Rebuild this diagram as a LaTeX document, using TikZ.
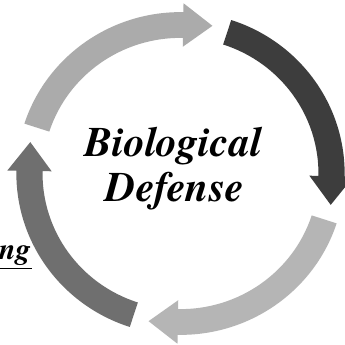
\documentclass[tikz,border=0pt]{standalone}
\usepackage{fontspec}
\newfontfamily\labelfont{texgyretermes-bolditalic.otf}
\definecolor{gA}{HTML}{ABABAB}
\definecolor{gB}{HTML}{3D3D3D}
\definecolor{gC}{HTML}{B5B5B5}
\definecolor{gD}{HTML}{6F6F6F}
\tikzset{
  cyclearrow/.style={fill=#1, draw=none},
  titletext/.style={font=\fontsize{42}{45}\selectfont\labelfont, inner sep=0pt, anchor=base},
  sidetext/.style={font=\fontsize{30}{34}\selectfont\labelfont, inner sep=0pt, anchor=base east}
}
\begin{document}
\begin{tikzpicture}[x=1pt,y=1pt]
\useasboundingbox (0,0) rectangle (345,345);
\fill[white] (0,0) rectangle (345,345);
\begin{scope}[shift={(180.5,171.5)}, xscale=1.007, yscale=0.99]
\foreach \t/\c in {162/gA, 72/gB, -18/gC, -108/gD}{
  \pgfmathsetmacro\b{\t-73}
  \pgfmathsetmacro\p{\t-84}
  \fill[cyclearrow=\c] (\t:163) arc[start angle=\t, end angle=\b, radius=163]
     -- (\b:172) -- (\p:152.5) -- (\b:128) -- (\b:137)
     arc[start angle=\b, end angle=\t, radius=137] -- cycle;
}
\end{scope}
\node[titletext] (title1) at (173,188.3) {Biological};
\node[titletext] (title2) at (175,143.3) {Defense};
\node[sidetext] (side) at (31,85.5) {ng};
\draw[line width=1.7pt] (-1,76.5) -- (31.7,76.5);
\end{tikzpicture}
\end{document}
